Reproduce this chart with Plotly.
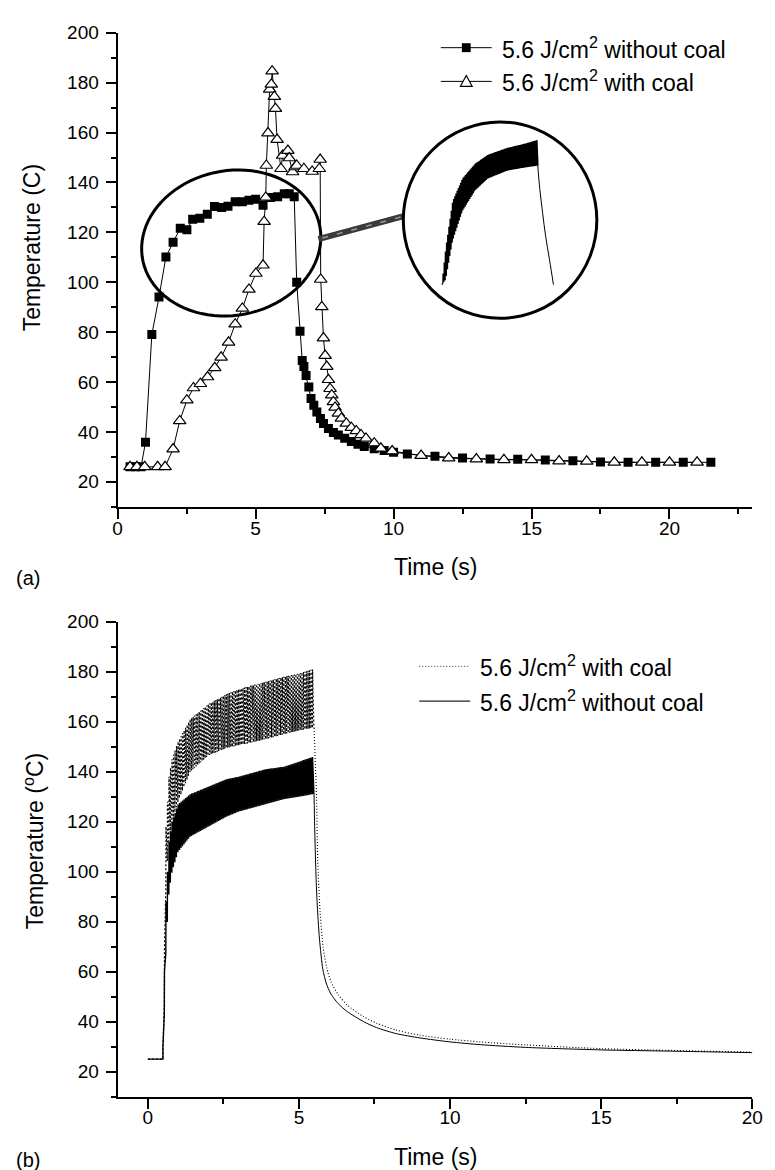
import numpy as np
import plotly.graph_objects as go

W, H = 775, 1170
FONT = "Liberation Sans, Arial, Helvetica, sans-serif"

# ---------------- panel (a): sampled temperatures ----------------
sq_t = [0.45, 0.65, 0.85,
        1.01, 1.24, 1.50, 1.75, 2.01, 2.27, 2.51, 2.72, 2.98, 3.25, 3.51, 3.77, 4.00, 4.26,
        4.52, 4.76, 5.00, 5.27, 5.54, 5.80, 6.04, 6.22, 6.40,
        6.49, 6.61, 6.69, 6.75, 6.83, 6.93, 7.01, 7.11, 7.22, 7.35, 7.46, 7.64, 7.82, 8.00,
        8.23, 8.47, 8.71, 8.94, 9.30, 9.66, 10.0,
        10.5, 11.5, 12.5, 13.5, 14.5, 15.5, 16.5, 17.5, 18.5, 19.5, 20.5, 21.5]
sq_T = [26, 26, 26,
        35.8, 79.0, 94.1, 110.1, 116, 121.6, 121, 125.2, 125.6, 127.3, 130.4, 130, 130.5, 132.3,
        132.3, 132.9, 133.3, 130.9, 134, 134.3, 135.5, 135.5, 134.3,
        100.0, 80.3, 68.6, 66.2, 62.6, 58, 53.4, 50.7, 48.0, 45.4, 43.4, 41.4, 39.8, 38.8,
        37.4, 36.1, 35.0, 34.1, 33.2, 32.5, 31.8,
        31.1, 30.2, 29.5, 29.1, 29.0, 28.7, 28.4, 27.9, 27.8, 27.8, 27.8, 27.8]

tr_t = [0.45, 0.70, 0.98, 1.45, 1.72,
        2.01, 2.25, 2.51, 2.75, 3.00, 3.26, 3.52, 3.75, 4.02, 4.26, 4.52, 4.76, 5.01, 5.27,
        5.31, 5.37, 5.39, 5.45, 5.51, 5.57, 5.60,
        5.68, 5.72, 5.78, 5.92, 5.98, 6.17, 6.22, 6.34, 6.43, 6.49, 6.75, 7.05, 7.31, 7.34,
        7.36, 7.40, 7.46, 7.52, 7.58, 7.64, 7.70, 7.76, 7.82, 7.88, 8.00, 8.11, 8.29, 8.47,
        8.65, 8.82, 9.00, 9.30, 9.54, 9.95,
        11.0, 12.0, 13.0, 14.0, 15.0, 16.0, 17.0, 18.0, 19.0, 20.0, 21.0]
tr_T = [26, 26, 26, 26, 26,
        33.1, 44.4, 52.7, 57.6, 59.3, 62.0, 65.7, 69.9, 75.9, 83.2, 89.5, 97.1, 103.5, 106.8,
        124.3, 134, 146.8, 159.8, 177.3, 179.3, 184.6,
        174.4, 169.6, 157.2, 145.5, 150.8, 152.8, 149.8, 144.2, 146.2, 146.8, 145.5, 144.4, 145.5, 149.2,
        101.1, 90.1, 77.6, 70.6, 66.2, 60.9, 57.3, 54.7, 52.0, 49.8, 47.4, 45.4, 43.4, 41.7,
        40.4, 38.8, 37.4, 35.5, 33.4, 32.3,
        30.5, 29.5, 29.1, 28.8, 28.8, 28.3, 28.2, 27.8, 27.8, 27.8, 27.8]

# ---------------- panel (b): pulsed-heating envelopes ----------------
base_t = [0.0, 0.5]
base_T = [25, 25]
env_t = [0.50, 0.55, 0.60, 0.70, 0.80, 1.00, 1.40, 2.00, 2.60, 3.00, 3.90, 4.50, 5.00, 5.47]
solid_upper = [30, 60, 88, 112, 120, 127, 131, 134, 137, 138, 141, 142, 144, 146]
solid_lower = [25, 45, 70, 92, 100, 108, 114, 118, 122, 124, 127, 129, 130, 131]
coal_upper = [30, 70, 118, 138, 145, 152, 161, 167, 171, 173, 176, 178, 179.3, 181]
coal_lower = [25, 50, 98, 112, 120, 128, 140, 146.5, 149.5, 150.5, 153, 155, 156.5, 157.5]
pulse_period = 0.05
pulse_end = 5.5

solid_decay_t = [5.50, 5.52, 5.56, 5.60, 5.68, 5.79, 5.90, 6.06, 6.30, 6.60, 7.14, 7.57,
                 8.22, 9.0, 10.0, 11.0, 12.5, 15.0, 17.3, 20.0]
solid_decay_T = [131, 118, 100, 88, 73, 61, 55.5, 51, 47.2, 44, 40, 37.6,
                 35.2, 33.5, 31.9, 30.8, 29.7, 28.7, 28.2, 27.6]
coal_decay_t = [5.50, 5.58, 5.62, 5.70, 5.80, 5.92, 6.06, 6.30, 6.60, 7.14, 7.57,
                8.22, 9.0, 10.0, 11.0, 12.5, 15.0, 17.3, 20.0]
coal_decay_T = [157.5, 130, 105, 84, 70, 61.5, 56, 50.8, 46.6, 42, 39.4,
                36.6, 34.6, 33.0, 31.9, 30.7, 29.2, 28.5, 27.8]

# ---------------- magnified inset (read in the inset's own pixel units) ----------------
inset_x = [446, 450, 457, 467, 480, 493, 513, 530, 544]
inset_up = [277, 240, 193, 170, 155, 146, 139, 135, 131]
inset_lo = [277, 272, 233, 203, 182, 170, 162, 159, 157]
inset_drop_x = [544, 546, 549, 552, 556, 560]
inset_drop_y = [157, 180, 205, 228, 252, 277]
inset_period = 1.2

LBL_WITHOUT = "5.6 J/cm<sup>2</sup> without coal"
LBL_WITH = "5.6 J/cm<sup>2</sup> with coal"
DOTS = "1px,2px"
BAND_DOTS = "2px,2px"


def saw(xs, up, lo, start, end, period, pre_x=(), pre_y=()):
    ts = list(pre_x)
    Ts = list(pre_y)
    for tk in np.arange(start, end - 1e-9, period):
        tt = tk + 0.9 * period
        ts += [float(tk), float(tt)]
        Ts += [float(np.interp(tk, xs, up)), float(np.interp(tt, xs, lo))]
    return ts, Ts


solid_t, solid_T = saw(env_t, solid_upper, solid_lower, 0.5, pulse_end, pulse_period, base_t, base_T)
coal_t, coal_T = saw(env_t, coal_upper, coal_lower, 0.5, pulse_end, pulse_period, base_t, base_T)
ins_t, ins_T = saw(inset_x, inset_up, inset_lo, inset_x[0], inset_x[-1], inset_period)

fig = go.Figure()

# panel (a)
fig.add_trace(go.Scatter(
    x=sq_t, y=sq_T, mode="lines+markers", name=LBL_WITHOUT, showlegend=False,
    line=dict(color="black", width=1),
    marker=dict(symbol="square", size=9, color="black", line=dict(color="black", width=0)),
    xaxis="x", yaxis="y"))
fig.add_trace(go.Scatter(
    x=tr_t, y=tr_T, mode="lines+markers", name=LBL_WITH, showlegend=False,
    line=dict(color="black", width=1),
    marker=dict(symbol="triangle-up", size=11, color="white", line=dict(color="black", width=1.2)),
    xaxis="x", yaxis="y"))

# panel (b)
fig.add_trace(go.Scatter(
    x=coal_t, y=coal_T, mode="lines", name=LBL_WITH, showlegend=False,
    line=dict(color="black", width=1.2, dash=BAND_DOTS), xaxis="x2", yaxis="y2"))
fig.add_trace(go.Scatter(
    x=coal_decay_t, y=coal_decay_T, mode="lines", name=LBL_WITH, showlegend=False,
    line=dict(color="black", width=1.1, dash=DOTS, shape="spline", smoothing=0.7),
    xaxis="x2", yaxis="y2"))
fig.add_trace(go.Scatter(
    x=solid_t, y=solid_T, mode="lines", name=LBL_WITHOUT, showlegend=False,
    line=dict(color="black", width=1.4), xaxis="x2", yaxis="y2"))
fig.add_trace(go.Scatter(
    x=solid_decay_t, y=solid_decay_T, mode="lines", name=LBL_WITHOUT, showlegend=False,
    line=dict(color="black", width=1, shape="spline", smoothing=0.7),
    xaxis="x2", yaxis="y2"))

# inset (magnified view inside the circle)
fig.add_trace(go.Scatter(
    x=ins_t, y=ins_T, mode="lines", showlegend=False,
    line=dict(color="black", width=1.2), xaxis="x3", yaxis="y3"))
fig.add_trace(go.Scatter(
    x=inset_drop_x, y=inset_drop_y, mode="lines", showlegend=False,
    line=dict(color="black", width=1, shape="spline"), xaxis="x3", yaxis="y3"))


def px(x):
    return x / W


def py(y):
    return 1 - y / H


axis_common = dict(
    showline=True, linecolor="black", linewidth=2, ticks="outside", ticklen=10,
    tickwidth=2, tickcolor="black", showgrid=False, zeroline=False,
    tickfont=dict(family=FONT, size=19, color="black"), mirror=False,
)
minor_x = dict(tickmode="linear", tick0=0, dtick=2.5, ticks="outside",
               ticklen=5, tickwidth=2, tickcolor="black")
minor_y = dict(tickmode="linear", tick0=0, dtick=10, ticks="outside",
               ticklen=5, tickwidth=2, tickcolor="black")

fig.update_layout(
    width=W, height=H, margin=dict(l=0, r=0, t=0, b=0),
    paper_bgcolor="white", plot_bgcolor="white",
    font=dict(family=FONT, color="black"),
    showlegend=False,
    xaxis=dict(domain=[px(115), px(763)], anchor="y", range=[0, 23],
               tickmode="linear", tick0=0, dtick=5, minor=minor_x,
               ticklabelstandoff=-7, **axis_common),
    yaxis=dict(domain=[py(501), py(23)], anchor="x", range=[10, 200],
               tickmode="linear", tick0=0, dtick=20, minor=minor_y,
               ticklabelstandoff=3, **axis_common),
    xaxis2=dict(domain=[px(115), px(763)], anchor="y2", range=[-1, 20],
                tickmode="linear", tick0=0, dtick=5, minor=minor_x,
                ticklabelstandoff=-7, **axis_common),
    yaxis2=dict(domain=[py(1096), py(617)], anchor="x2", range=[10, 200],
                tickmode="linear", tick0=0, dtick=20, minor=minor_y,
                ticklabelstandoff=3, **axis_common),
    xaxis3=dict(domain=[px(406.7), px(604.3)], anchor="y3", range=[406.7, 604.3], visible=False),
    yaxis3=dict(domain=[py(311), py(113)], anchor="x3", range=[311, 113], visible=False),
)

# ---- legends (drawn as keys + text) ----
leg_font = dict(family=FONT, size=23, color="black")
# panel (a) legend
for yk in (38, 72):
    fig.add_shape(type="line", xref="paper", yref="paper", x0=px(445), x1=px(497),
                  y0=py(yk), y1=py(yk), line=dict(color="black", width=1))
fig.add_shape(type="rect", xref="paper", yref="paper", x0=px(466.5), x1=px(475.5),
              y0=py(42.5), y1=py(33.5), fillcolor="black", line=dict(color="black", width=0))
fig.add_shape(type="path", xref="paper", yref="paper",
              path=f"M {px(465):.5f},{py(77):.5f} L {px(477):.5f},{py(77):.5f} L {px(471):.5f},{py(66):.5f} Z",
              fillcolor="white", line=dict(color="black", width=1.2))
fig.add_annotation(text=LBL_WITHOUT, x=px(505), y=py(38), xref="paper", yref="paper",
                   showarrow=False, xanchor="left", yanchor="middle", font=leg_font)
fig.add_annotation(text=LBL_WITH, x=px(505), y=py(72), xref="paper", yref="paper",
                   showarrow=False, xanchor="left", yanchor="middle", font=leg_font)
# panel (b) legend
fig.add_shape(type="line", xref="paper", yref="paper", x0=px(423), x1=px(475),
              y0=py(662), y1=py(662), line=dict(color="#333333", width=1, dash=DOTS))
fig.add_shape(type="line", xref="paper", yref="paper", x0=px(423), x1=px(475),
              y0=py(697), y1=py(697), line=dict(color="#222222", width=1.2))
fig.add_annotation(text=LBL_WITH, x=px(483), y=py(662), xref="paper", yref="paper",
                   showarrow=False, xanchor="left", yanchor="middle", font=leg_font)
fig.add_annotation(text=LBL_WITHOUT, x=px(483), y=py(697), xref="paper", yref="paper",
                   showarrow=False, xanchor="left", yanchor="middle", font=leg_font)

# decorations: ellipse around the plateau, magnifier circle and connector
cx, cy, ra, rb, th = 231, 235, 92, 73, np.deg2rad(-10)
ang = np.linspace(0, 2 * np.pi, 90)
ex = cx + ra * np.cos(ang) * np.cos(th) - rb * np.sin(ang) * np.sin(th)
ey = cy + ra * np.cos(ang) * np.sin(th) + rb * np.sin(ang) * np.cos(th)
path = "M " + " L ".join(f"{px(a):.5f},{py(b):.5f}" for a, b in zip(ex, ey)) + " Z"
fig.add_shape(type="path", path=path, xref="paper", yref="paper",
              line=dict(color="black", width=3))
fig.add_shape(type="line", xref="paper", yref="paper",
              x0=px(320), y0=py(231), x1=px(407), y1=py(208),
              line=dict(color="#3a3a3a", width=6))
fig.add_shape(type="line", xref="paper", yref="paper",
              x0=px(324), y0=py(230), x1=px(404), y1=py(208.8),
              line=dict(color="#9a9a9a", width=1.5, dash="6px,9px"))
fig.add_shape(type="circle", xref="paper", yref="paper",
              x0=px(406.7), x1=px(604.3), y0=py(311), y1=py(113),
              line=dict(color="black", width=3))

ann_font = dict(family=FONT, size=23, color="black")
for text, x, y, ang_ in [
    ("Temperature (C)", 28, 240, -90),
    ("Temperature (<sup>o</sup>C)", 29, 838, -90),
    ("Time (s)", 440, 562, 0),
    ("Time (s)", 440, 1157, 0),
]:
    fig.add_annotation(text=text, x=px(x), y=py(y), xref="paper", yref="paper",
                       showarrow=False, textangle=ang_, font=ann_font,
                       xanchor="center", yanchor="middle")
for text, x, y in [("(a)", 23, 573), ("(b)", 23, 1160)]:
    fig.add_annotation(text=text, x=px(x), y=py(y), xref="paper", yref="paper",
                       showarrow=False, font=dict(family=FONT, size=20, color="black"),
                       xanchor="center", yanchor="middle")

fig.write_html("out.html")
